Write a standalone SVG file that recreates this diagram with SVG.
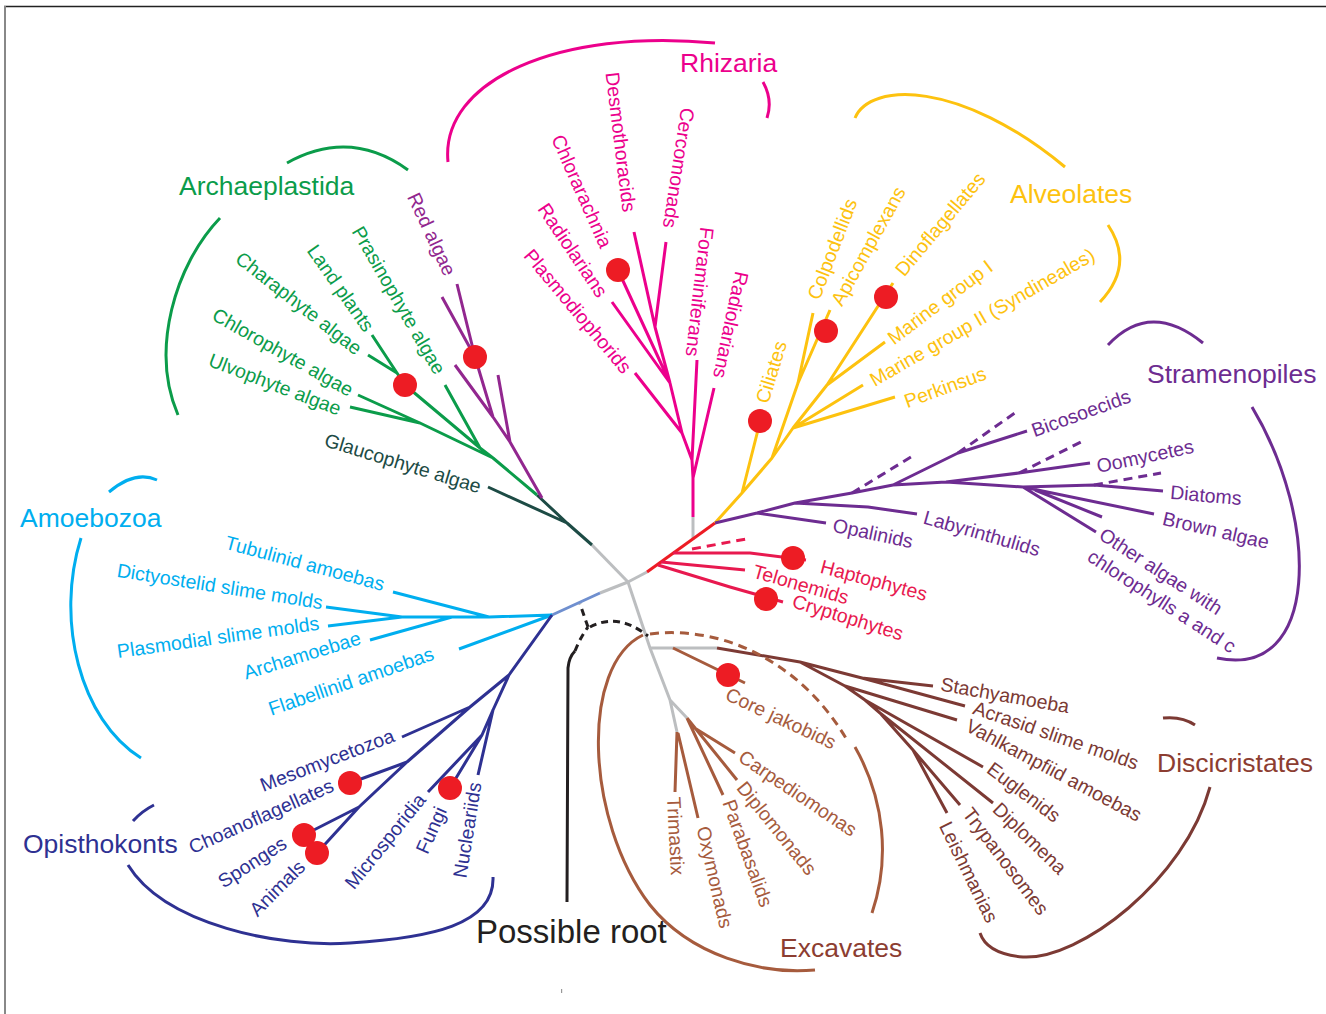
<svg xmlns="http://www.w3.org/2000/svg" width="1326" height="1014" viewBox="0 0 1326 1014">
<style>
text{font-family:"Liberation Sans",Arial,Helvetica,sans-serif}
.t{font-size:19.5px;text-anchor:middle;dominant-baseline:central}
.g{font-size:26.5px}
.ln{fill:none;stroke-width:3;stroke-linejoin:round}
.dash{stroke-dasharray:9 6}
.arch{stroke:#0b9c4a}.tarch{fill:#0b9c4a}
.glau{stroke:#1d4b45}.tglau{fill:#1d4b45}
.reda{stroke:#92278f}.treda{fill:#92278f}
.rhiz{stroke:#ec008c}.trhiz{fill:#ec008c}
.alv{stroke:#fdc20f}.talv{fill:#fdc20f}
.stra{stroke:#6d2c91}.tstra{fill:#6d2c91}
.hapt{stroke:#e8194f}.thapt{fill:#e8194f}
.amoe{stroke:#00aeef}.tamoe{fill:#00aeef}
.opis{stroke:#2e3192}.topis{fill:#2e3192}
.exc{stroke:#a65b3d}.texc{fill:#a65b3d}
.disc{stroke:#7c3a34}.tdisc{fill:#7c3a34}
.gray{stroke:#bcbec0}
.root{stroke:#231f20}
.dot{fill:#ed1c24}
</style>

<!-- frame -->
<line x1="4" y1="6.5" x2="1326" y2="6.5" stroke="#222" stroke-width="1.4"/>
<line x1="5" y1="6" x2="5" y2="1014" stroke="#888" stroke-width="2"/>
<rect x="561" y="989" width="1.2" height="4" fill="#999"/>

<g id="connectors">
  <!-- central gray -->
  <path class="ln gray" d="M628,582 L592,545"/>
  <path class="ln gray" d="M628,582 L647,572"/>
  <path class="ln gray" d="M693,540 L693,517"/>
  <path class="ln gray" d="M628,582 L600,593"/>
  <path class="ln" stroke="#6f8fcf" d="M600,593 L552,615"/>
  <path class="ln gray" d="M628,582 L650,648 L670,700 L677,732 M670,700 L687,718 M650,648 L717,648"/>
  <!-- Archaeplastida -->
  <path class="ln glau" d="M592,545 L567,523 L537,495 M567,523 L488,487"/>
  <path class="ln arch" d="M537,495 L493,458 L480,448 L405,385 L397,373 L372,335 M397,373 L368,355 M480,448 L445,385 M493,458 L420,423 L350,407 M420,423 L358,395"/>
  <path class="ln reda" d="M542,498 L510,442 L498,375 M510,442 L493,417 L455,365 M493,417 L475,357 L457,284 M475,357 L442,297"/>
  <!-- Rhizaria -->
  <path class="ln rhiz" d="M693,517 L693,478 L714,388 M693,478 L692,460 L697,360 M692,460 L682,433 L635,373 M682,433 L670,383 L612,302 M670,383 L655,327 L634,232 M655,327 L666,242 M670,383 L618,270"/>
  <!-- red stem + haptophytes etc -->
  <path class="ln" stroke="#ed1c24" d="M647,572 L715,523"/>
  <path class="ln hapt" d="M673,553 L750,553 L806,560 M661,562 L745,570 M658,565 L730,587 L783,602"/>
  <path class="ln hapt dash" d="M692,549 L746,539"/>
  <!-- Alveolates -->
  <path class="ln alv" d="M715,523 L742,493 L772,458 L793,428 L827,385 L893,283 M827,385 L885,342 M793,428 L863,385 M793,428 L895,397 M772,458 L798,383 L813,313 M798,383 L830,310 M742,493 L760,422"/>
  <!-- Stramenopiles -->
  <path class="ln stra" d="M715,523 L757,513 L795,503 L852,493 L893,485 L946,482 L1023,487 L1094,485 L1163,491 M757,513 L826,523 M795,503 L868,507 L917,514 M893,485 L958,453 L1027,431 M946,482 L1019,473 L1090,463 M1023,487 L1154,514 M1023,487 L1096,532 M1035,490 L1102,517"/>
  <path class="ln stra dash" d="M852,493 L911,457 M958,453 L1019,410 M1019,473 L1081,442 M1094,485 L1161,473"/>
  <!-- Amoebozoa -->
  <path class="ln amoe" d="M552,615 L489,617 L402,617 L326,607 M489,617 L393,592 M402,617 L328,626 M452,617 L370,640 M552,615 L459,649"/>
  <!-- Opisthokonts -->
  <path class="ln opis" d="M552,615 L509,675 L470,707 L407,762 L359,807 L317,853 M359,807 L304,835 M470,707 L402,737 M407,762 L350,783 M509,675 L493,710 L478,775 M493,710 L482,735 L450,788 M482,735 L428,792"/>
  <!-- Excavates -->
  <path class="ln exc" d="M677,732 L675,792 M678,733 L698,818 M687,718 L723,795 M687,718 L737,780 M693,727 L735,753 M673,648 L745,683"/>
  <path class="ln disc" d="M717,648 L800,662 L862,678 L933,686 M862,678 L965,706 M800,662 L845,686 L957,720 M845,686 L865,700 L983,767 M865,700 L880,713 L993,803 M880,713 L913,750 L960,805 M913,750 L947,813"/>
  <path class="ln exc dash" d="M650,634 C720,625 800,660 847,740"/>
  <!-- possible root -->
  <path class="ln root" d="M567,902 L568,668 Q569,657 575,651"/>
  <path class="ln root" stroke-dasharray="7 5" d="M575,651 Q580,638 588,627 M588,627 L580,604 M590,627 Q618,612 648,636"/>
  <!-- group brackets -->
  <path class="ln arch" d="M287,163 Q350,128 408,170 M220,218 C175,265 150,350 178,415"/>
  <path class="ln rhiz" d="M448,162 C440,80 560,28 715,43 M763,82 Q773,100 767,118"/>
  <path class="ln alv" d="M855,118 C870,82 960,80 1065,167 M1108,225 Q1135,265 1100,302"/>
  <path class="ln stra" d="M1108,345 Q1150,300 1203,343 M1252,407 C1320,520 1320,680 1217,658"/>
  <path class="ln amoe" d="M109,492 Q135,470 157,480 M81,538 C55,620 80,720 141,758"/>
  <path class="ln opis" d="M133,821 Q142,811 154,805 M128,865 C165,925 280,948 350,943 C430,938 495,925 493,877"/>
  <path class="ln exc" d="M643,635 C580,665 585,820 650,905 C690,955 760,975 815,970 M855,747 C885,800 890,860 872,913"/>
  <path class="ln disc" d="M1163,718 Q1182,716 1195,725 M1210,787 C1185,880 1080,960 1023,957 C1000,955 985,948 980,933"/>
</g>

<!-- Archaeplastida -->
<g id="archaeplastida"><text class="g tarch" x="179" y="195">Archaeplastida</text></g>
<g id="prasinophyte"><text class="t tarch" transform="translate(399,300) rotate(60)">Prasinophyte algae</text></g>
<g id="landplants"><text class="t tarch" transform="translate(341,288) rotate(55)">Land plants</text></g>
<g id="charaphyte"><text class="t tarch" transform="translate(299,303) rotate(38)">Charaphyte algae</text></g>
<g id="chlorophyte"><text class="t tarch" transform="translate(283,352) rotate(29.5)">Chlorophyte algae</text></g>
<g id="ulvophyte"><text class="t tarch" transform="translate(275,384) rotate(21)">Ulvophyte algae</text></g>
<g id="redalgae"><text class="t treda" transform="translate(432,234) rotate(65)">Red algae</text></g>
<g id="glaucophyte"><text class="t tglau" transform="translate(403,463) rotate(17)">Glaucophyte algae</text></g>
<g id="dot-arch"><circle class="dot" cx="405" cy="385" r="12"/><circle class="dot" cx="475" cy="357" r="12"/></g>

<!-- Rhizaria -->
<g id="rhizaria"><text class="g trhiz" x="680" y="72">Rhizaria</text></g>
<g id="desmothoracids"><text class="t trhiz" transform="translate(621,142) rotate(83)">Desmothoracids</text></g>
<g id="cercomonads"><text class="t trhiz" transform="translate(679,168) rotate(98.7)">Cercomonads</text></g>
<g id="chlorarachnia"><text class="t trhiz" transform="translate(582,191) rotate(66)">Chlorarachnia</text><circle class="dot" cx="618" cy="270" r="12"/></g>
<g id="radiolarians1"><text class="t trhiz" transform="translate(573,250) rotate(56)">Radiolarians</text></g>
<g id="plasmodiophorids"><text class="t trhiz" transform="translate(578,311) rotate(50)">Plasmodiophorids</text></g>
<g id="foraminiferans"><text class="t trhiz" transform="translate(700,292) rotate(96.6)">Foraminiferans</text></g>
<g id="radiolarians2"><text class="t trhiz" transform="translate(731,325) rotate(102)">Radiolarians</text></g>

<!-- Alveolates -->
<g id="alveolates"><text class="g talv" x="1010" y="203">Alveolates</text></g>
<g id="ciliates"><text class="t talv" transform="translate(771,372) rotate(-73)">Ciliates</text><circle class="dot" cx="760" cy="421" r="12"/></g>
<g id="colpodellids"><text class="t talv" transform="translate(832,249) rotate(-69)">Colpodellids</text></g>
<g id="apicomplexans"><text class="t talv" transform="translate(868,246) rotate(-61)">Apicomplexans</text><circle class="dot" cx="826" cy="331" r="12"/></g>
<g id="dinoflagellates"><text class="t talv" transform="translate(940,224) rotate(-50)">Dinoflagellates</text><circle class="dot" cx="886" cy="297" r="12"/></g>
<g id="marine1"><text class="t talv" transform="translate(940,302) rotate(-37)">Marine group I</text></g>
<g id="marine2"><text class="t talv" transform="translate(982,317) rotate(-30)">Marine group II (Syndineales)</text></g>
<g id="perkinsus"><text class="t talv" transform="translate(945,387) rotate(-20)">Perkinsus</text></g>

<!-- Stramenopiles -->
<g id="stramenopiles"><text class="g tstra" x="1147" y="383">Stramenopiles</text></g>
<g id="bicosoecids"><text class="t tstra" transform="translate(1081,413) rotate(-20)">Bicosoecids</text></g>
<g id="oomycetes"><text class="t tstra" transform="translate(1145,456) rotate(-12)">Oomycetes</text></g>
<g id="diatoms"><text class="t tstra" transform="translate(1206,495) rotate(5)">Diatoms</text></g>
<g id="brownalgae"><text class="t tstra" transform="translate(1216,530) rotate(13)">Brown algae</text></g>
<g id="otheralgae"><text class="t tstra" transform="translate(1161,571) rotate(33)">Other algae with</text><text class="t tstra" transform="translate(1162,601) rotate(33)">chlorophylls a and c</text></g>
<g id="opalinids"><text class="t tstra" transform="translate(873,533) rotate(12)">Opalinids</text></g>
<g id="labyrinthulids"><text class="t tstra" transform="translate(982,533) rotate(16)">Labyrinthulids</text></g>

<!-- Haptophytes etc -->
<g id="haptophytes"><text class="t thapt" transform="translate(874,580) rotate(15)">Haptophytes</text><circle class="dot" cx="793" cy="558" r="12"/></g>
<g id="telonemids"><text class="t thapt" transform="translate(801,584) rotate(16)">Telonemids</text></g>
<g id="cryptophytes"><text class="t thapt" transform="translate(848,617) rotate(17)">Cryptophytes</text><circle class="dot" cx="766" cy="599" r="12"/></g>

<!-- Amoebozoa -->
<g id="amoebozoa"><text class="g tamoe" x="20" y="527">Amoebozoa</text></g>
<g id="tubulinid"><text class="t tamoe" transform="translate(305,563) rotate(15)">Tubulinid amoebas</text></g>
<g id="dictyostelid"><text class="t tamoe" transform="translate(220,586) rotate(9)">Dictyostelid slime molds</text></g>
<g id="plasmodial"><text class="t tamoe" transform="translate(218,637) rotate(-8)">Plasmodial slime molds</text></g>
<g id="archamoebae"><text class="t tamoe" transform="translate(302,655) rotate(-17)">Archamoebae</text></g>
<g id="flabellinid"><text class="t tamoe" transform="translate(351,681) rotate(-19)">Flabellinid amoebas</text></g>

<!-- Opisthokonts -->
<g id="opisthokonts"><text class="g topis" x="23" y="853">Opisthokonts</text></g>
<g id="mesomycetozoa"><text class="t topis" transform="translate(327,760) rotate(-21)">Mesomycetozoa</text></g>
<g id="choanoflagellates"><text class="t topis" transform="translate(261,816) rotate(-24)">Choanoflagellates</text><circle class="dot" cx="350" cy="783" r="12"/></g>
<g id="sponges"><text class="t topis" transform="translate(252,862) rotate(-33)">Sponges</text><circle class="dot" cx="304" cy="835" r="12"/></g>
<g id="animals"><text class="t topis" transform="translate(277,888) rotate(-45)">Animals</text><circle class="dot" cx="317" cy="853" r="12"/></g>
<g id="microsporidia"><text class="t topis" transform="translate(385,841) rotate(-51)">Microsporidia</text></g>
<g id="fungi"><text class="t topis" transform="translate(431,830) rotate(-66)">Fungi</text><circle class="dot" cx="450" cy="788" r="12"/></g>
<g id="nucleariids"><text class="t topis" transform="translate(467,830) rotate(-81)">Nucleariids</text></g>

<!-- Excavates -->
<g id="excavates"><text class="g" fill="#8c3d31" x="780" y="957">Excavates</text></g>
<g id="corejakobids"><text class="t texc" transform="translate(781,718) rotate(25)">Core jakobids</text><circle class="dot" cx="728" cy="675" r="12"/></g>
<g id="carpediomonas"><text class="t texc" transform="translate(798,793) rotate(34)">Carpediomonas</text></g>
<g id="diplomonads"><text class="t texc" transform="translate(777,828) rotate(51)">Diplomonads</text></g>
<g id="parabasalids"><text class="t texc" transform="translate(748,853) rotate(70)">Parabasalids</text></g>
<g id="oxymonads"><text class="t texc" transform="translate(715,877) rotate(77)">Oxymonads</text></g>
<g id="trimastix"><text class="t texc" transform="translate(676,836) rotate(87)">Trimastix</text></g>

<!-- Discicristates -->
<g id="discicristates"><text class="g" fill="#8c3d31" x="1157" y="772">Discicristates</text></g>
<g id="stachyamoeba"><text class="t tdisc" transform="translate(1005,695) rotate(10)">Stachyamoeba</text></g>
<g id="acrasid"><text class="t tdisc" transform="translate(1056,735) rotate(19)">Acrasid slime molds</text></g>
<g id="vahlkampfiid"><text class="t tdisc" transform="translate(1054,770) rotate(28)">Vahlkampfiid amoebas</text></g>
<g id="euglenids"><text class="t tdisc" transform="translate(1024,792) rotate(37)">Euglenids</text></g>
<g id="diplomena"><text class="t tdisc" transform="translate(1030,838) rotate(44)">Diplomena</text></g>
<g id="trypanosomes"><text class="t tdisc" transform="translate(1006,861) rotate(53)">Trypanosomes</text></g>
<g id="leishmanias"><text class="t tdisc" transform="translate(969,872) rotate(64)">Leishmanias</text></g>

<!-- root -->
<g id="possibleroot"><text x="476" y="943" font-size="33" fill="#231f20">Possible root</text></g>
</svg>
